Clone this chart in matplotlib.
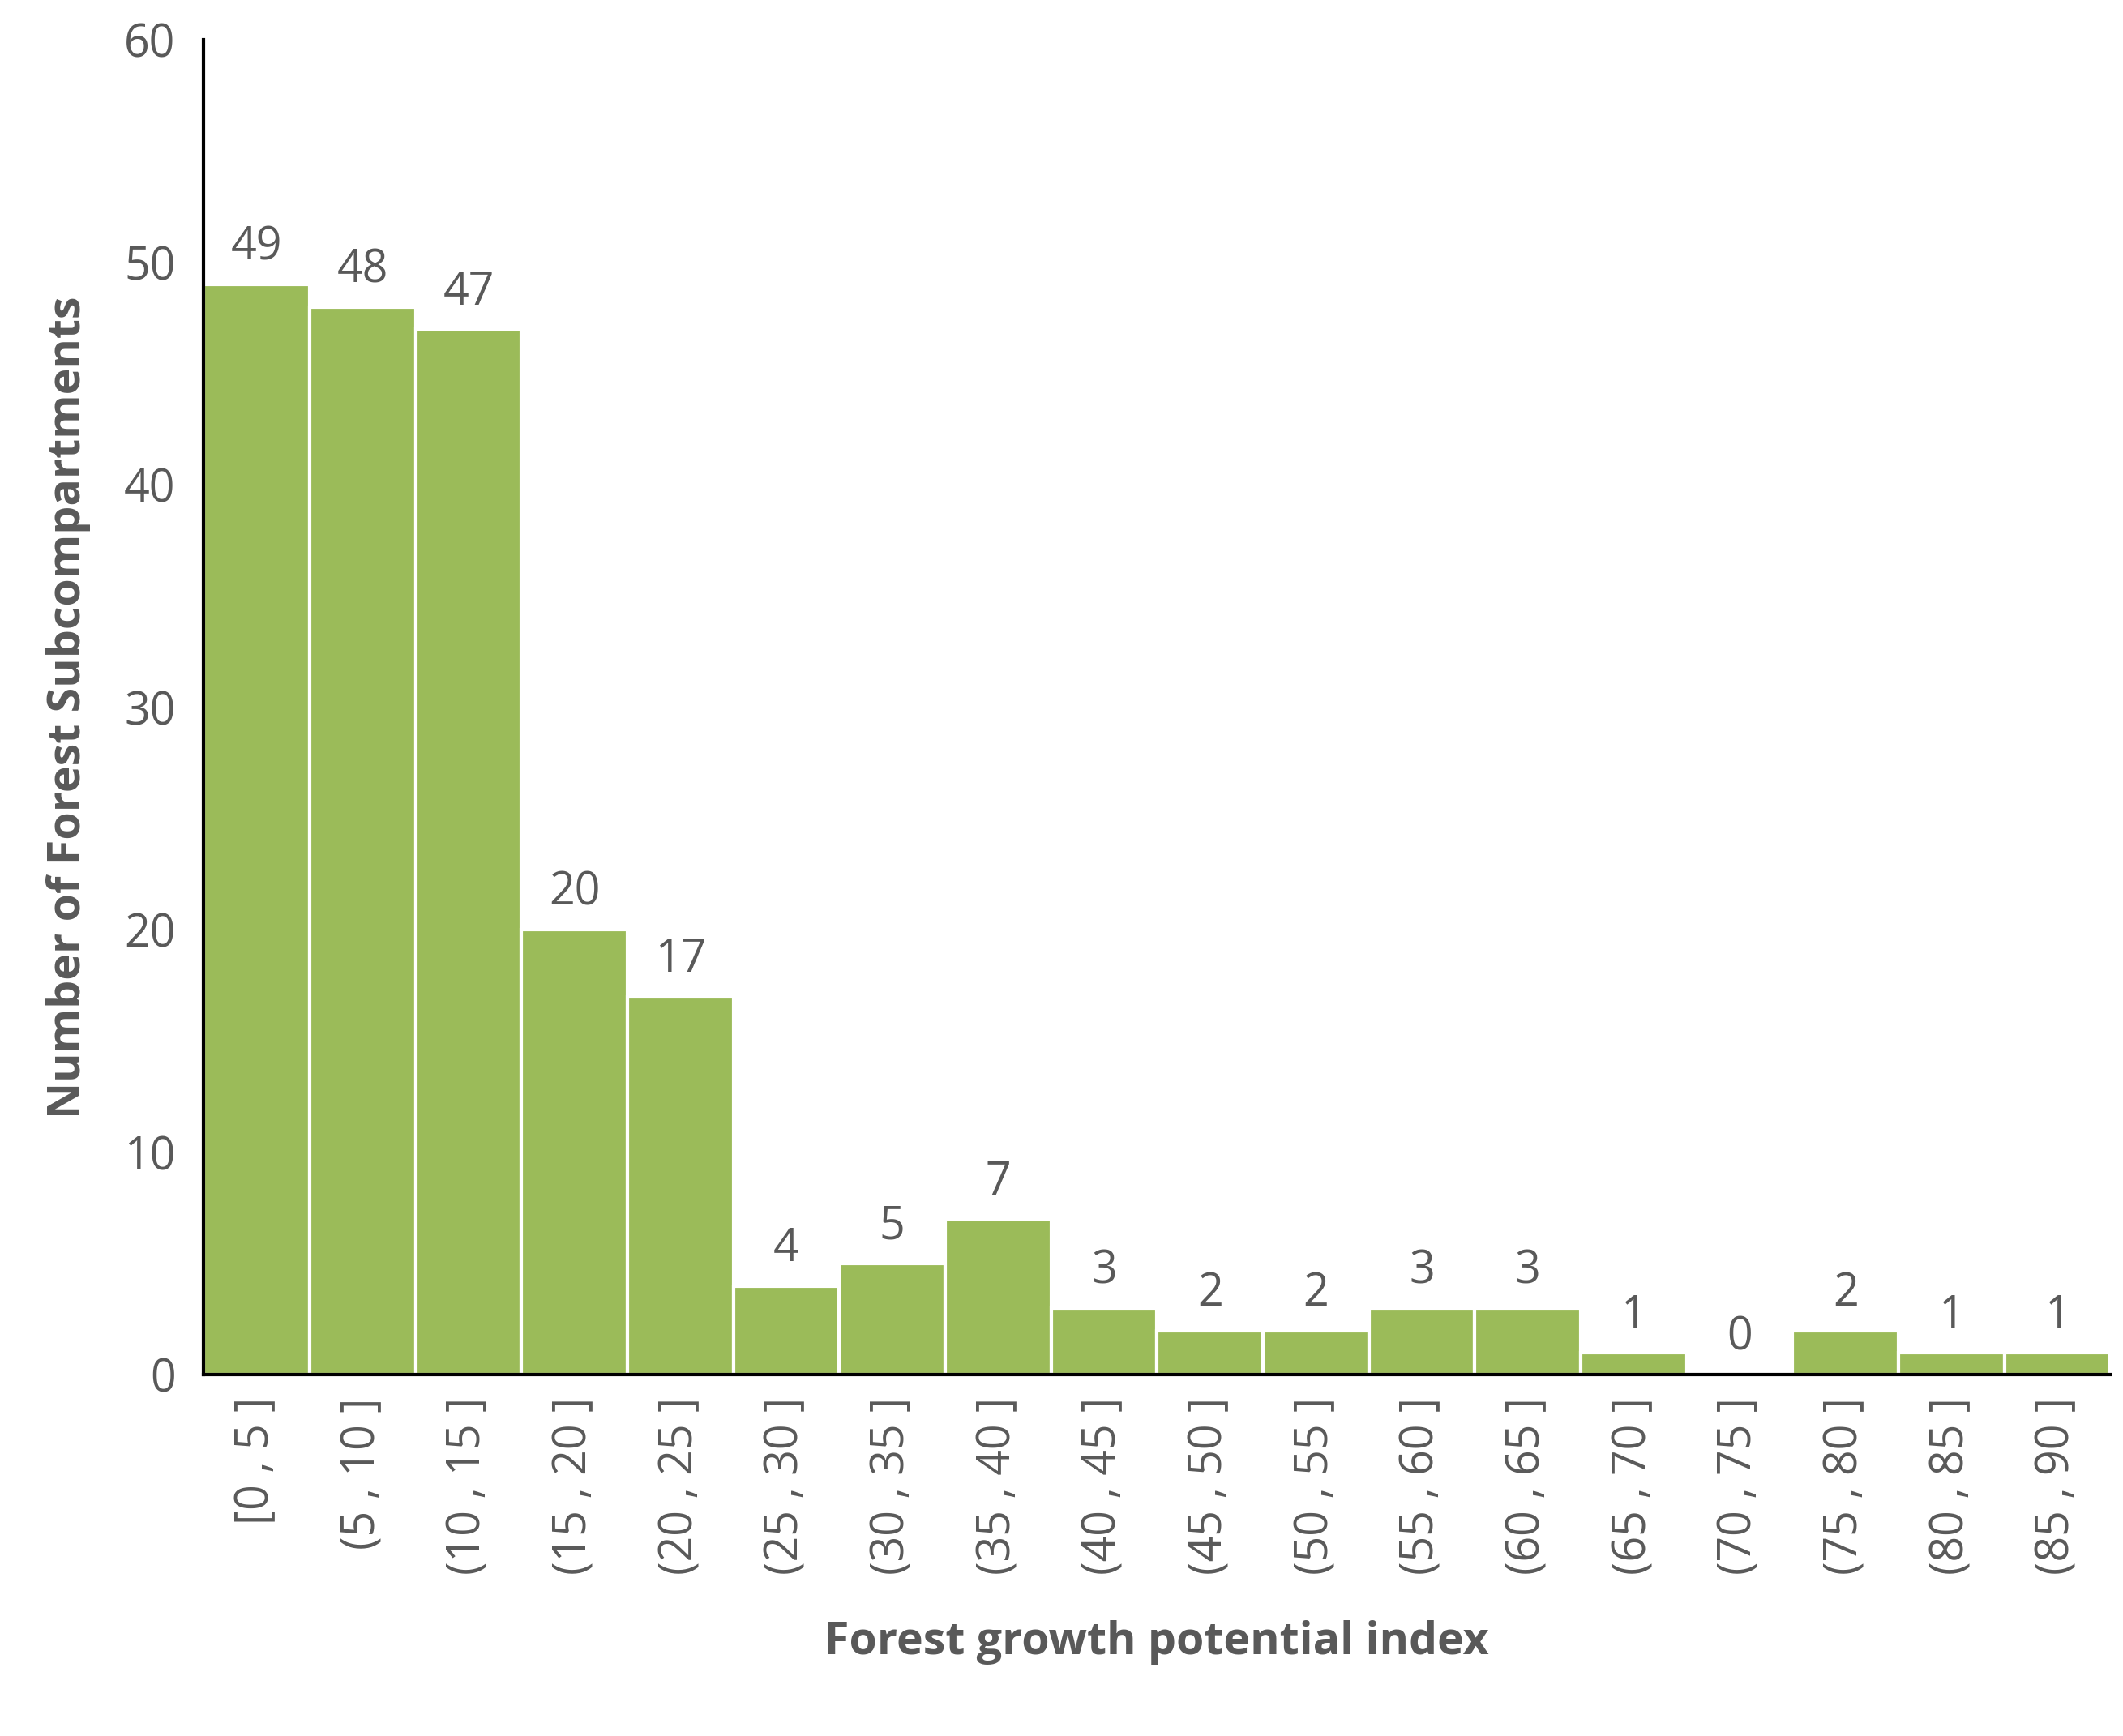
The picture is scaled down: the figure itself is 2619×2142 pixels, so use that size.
import matplotlib
matplotlib.use("Agg")
import matplotlib.pyplot as plt

categories = ["[0 , 5 ]", "(5 , 10 ]", "(10 , 15 ]", "(15 , 20 ]", "(20 , 25 ]", "(25 , 30 ]",
              "(30 , 35 ]", "(35 , 40 ]", "(40 , 45 ]", "(45 , 50 ]", "(50 , 55 ]", "(55 , 60 ]",
              "(60 , 65 ]", "(65 , 70 ]", "(70 , 75 ]", "(75 , 80 ]", "(80 , 85 ]", "(85 , 90 ]"]
counts = [49, 48, 47, 20, 17, 4, 5, 7, 3, 2, 2, 3, 3, 1, 0, 2, 1, 1]

plt.rcParams['font.family'] = ['Open Sans', 'DejaVu Sans']
gray = "#595959"
fig = plt.figure(figsize=(26.19, 21.42), dpi=100)
ax = fig.add_axes([0.096, 0.208, 0.898, 0.769])
x = list(range(len(categories)))
ax.bar(x, counts, width=1.0, color="#9BBB59", edgecolor="white", linewidth=3)
for xi, v in zip(x, counts):
    ax.text(xi, v + 0.6, str(v), ha="center", va="bottom", fontsize=40, color=gray)
ax.set_xlim(-0.5, len(categories) - 0.5)
ax.set_ylim(0, 60)
ax.set_yticks(range(0, 61, 10))
ax.set_xticks(x)
ax.set_xticklabels(categories, rotation=90, fontsize=40, color=gray)
ax.tick_params(axis='y', labelsize=40, labelcolor=gray, length=0, pad=25)
ax.tick_params(axis='x', length=0, pad=20)
for s in ["top", "right"]:
    ax.spines[s].set_visible(False)
for s in ["left", "bottom"]:
    ax.spines[s].set_linewidth(3)
    ax.spines[s].set_color("black")
ax.set_xlabel("Forest growth potential index", fontsize=40, fontweight="bold", color=gray, labelpad=40)
ax.set_ylabel("Number of Forest Subcompartments", fontsize=40, fontweight="bold", color=gray, labelpad=30)
fig.savefig("out.png", dpi=100)
